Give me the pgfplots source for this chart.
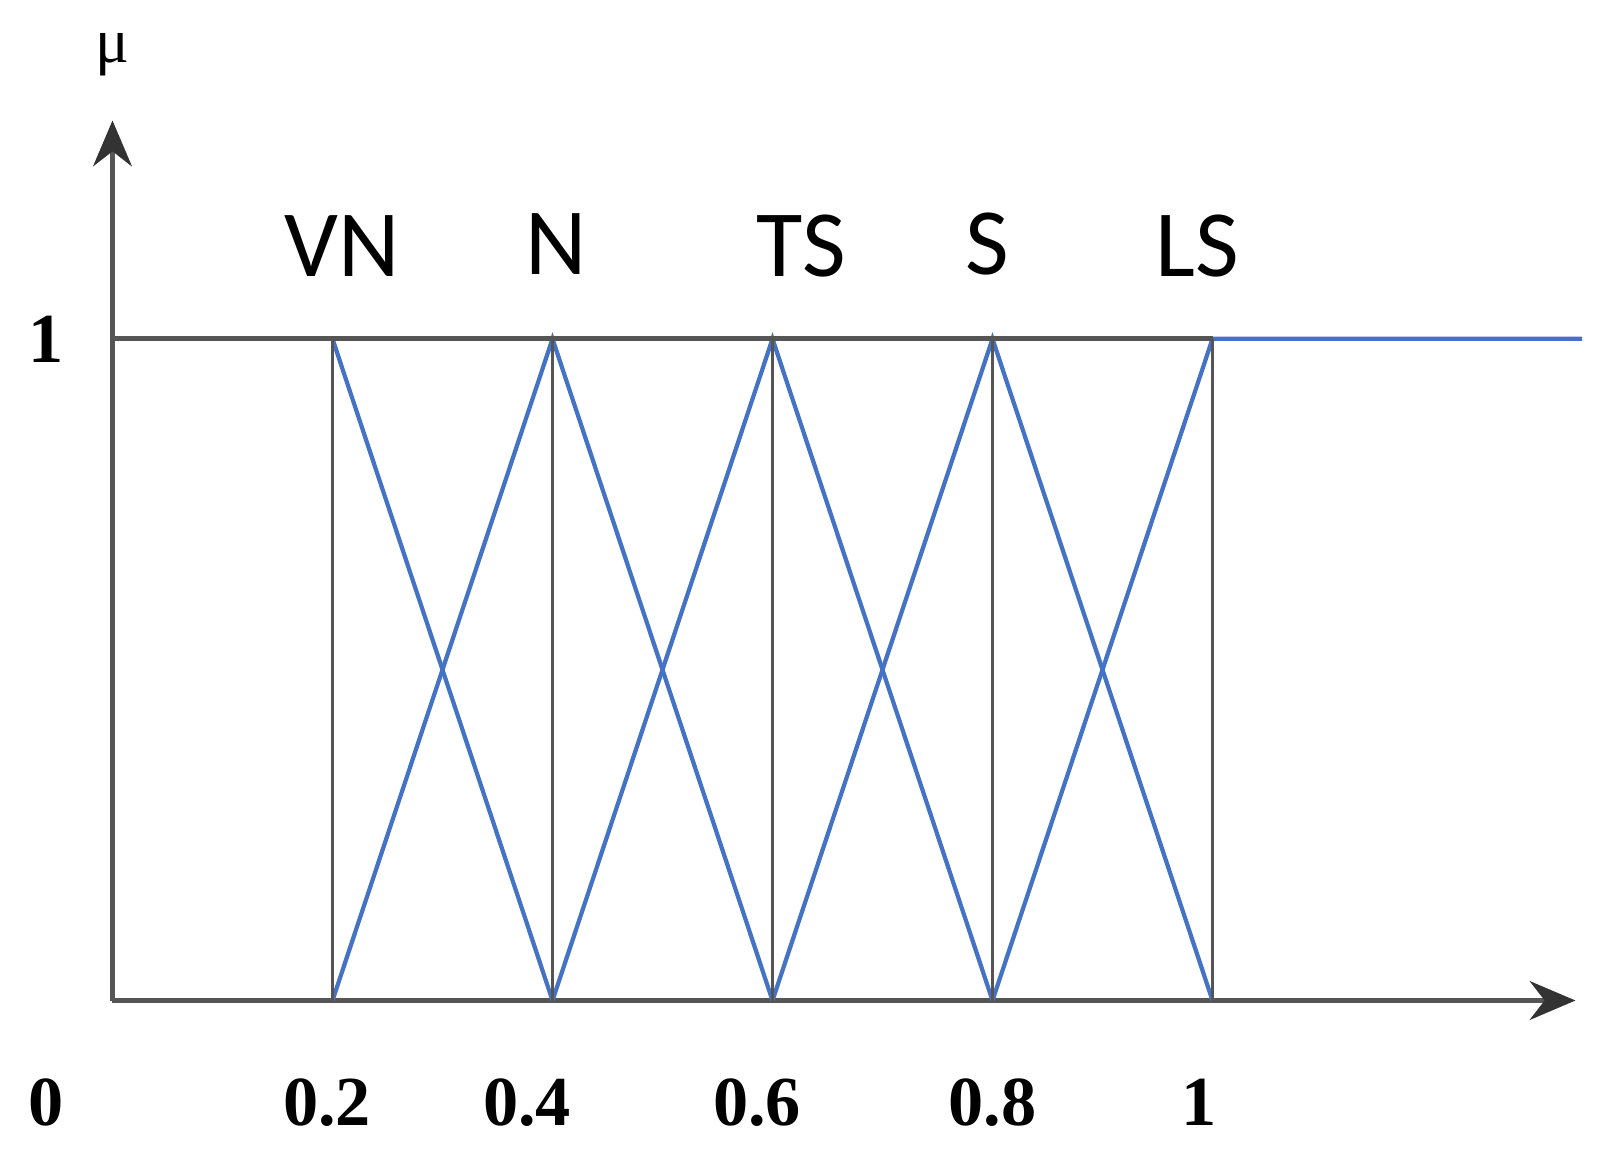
\documentclass[border=0pt]{standalone}
\usepackage{pgfplots}
\pgfplotsset{compat=1.18}
\usepackage{fontspec}
\setmainfont{Liberation Serif}
\newfontfamily\calib{Carlito}
\usetikzlibrary{arrows.meta}
\definecolor{axgray}{HTML}{555555}
\definecolor{mfblue}{HTML}{4472C4}
\begin{document}
\begin{tikzpicture}
\begin{axis}[
  at={(0,0)}, anchor=origin,
  scale only axis,
  width=14.63cm, height=8.80cm,
  xmin=0, xmax=1.33, ymin=0, ymax=1.33,
  axis lines=left,
  axis line style={draw=axgray, line width=1.5pt, -{Stealth[length=13pt,width=11pt,color=black!80]}},
  xtick=\empty, ytick=\empty,
  clip=false,
]
% membership functions (blue)
\addplot[mfblue, line width=1.2pt] coordinates {(0.2,1) (0.4,0)};          % VN
\addplot[mfblue, line width=1.2pt] coordinates {(0.2,0) (0.4,1) (0.6,0)};  % N
\addplot[mfblue, line width=1.2pt] coordinates {(0.4,0) (0.6,1) (0.8,0)};  % TS
\addplot[mfblue, line width=1.2pt] coordinates {(0.6,0) (0.8,1) (1.0,0)};  % S
\addplot[mfblue, line width=1.2pt] coordinates {(0.8,0) (1.0,1) (1.336,1)};% LS
% grey frame lines
\addplot[axgray, line width=1.5pt] coordinates {(0,1) (1.0,1)};
\addplot[axgray, line width=1.0pt] coordinates {(0.2,0) (0.2,1)};
\addplot[axgray, line width=1.0pt] coordinates {(0.4,0) (0.4,1)};
\addplot[axgray, line width=1.0pt] coordinates {(0.6,0) (0.6,1)};
\addplot[axgray, line width=1.0pt] coordinates {(0.8,0) (0.8,1)};
\addplot[axgray, line width=1.0pt] coordinates {(1.0,0) (1.0,1)};
% term labels
\node[anchor=base, font=\calib\fontsize{27}{30}\selectfont] at (axis cs:0.209,1.094) {VN};
\node[anchor=base, font=\calib\fontsize{27}{30}\selectfont] at (axis cs:0.403,1.097) {N};
\node[anchor=base, font=\calib\fontsize{27}{30}\selectfont] at (axis cs:0.626,1.094) {TS};
\node[anchor=base, font=\calib\fontsize{27}{30}\selectfont] at (axis cs:0.795,1.097) {S};
\node[anchor=base, font=\calib\fontsize{27}{30}\selectfont] at (axis cs:0.986,1.094) {LS};
% tick labels
\node[anchor=base, font=\bfseries\fontsize{20}{24}\selectfont] at (axis cs:-0.06,-0.189) {0};
\node[anchor=base, font=\bfseries\fontsize{20}{24}\selectfont] at (axis cs:0.195,-0.189) {0.2};
\node[anchor=base, font=\bfseries\fontsize{20}{24}\selectfont] at (axis cs:0.377,-0.189) {0.4};
\node[anchor=base, font=\bfseries\fontsize{20}{24}\selectfont] at (axis cs:0.586,-0.189) {0.6};
\node[anchor=base, font=\bfseries\fontsize{20}{24}\selectfont] at (axis cs:0.80,-0.189) {0.8};
\node[anchor=base, font=\bfseries\fontsize{20}{24}\selectfont] at (axis cs:0.988,-0.189) {1};
\node[font=\bfseries\fontsize{20}{24}\selectfont] at (axis cs:-0.06,1.0) {1};
\node[font=\fontsize{18}{22}\selectfont] at (axis cs:0.0,1.43) {μ};
\end{axis}
\pgfresetboundingbox
\path[use as bounding box] (-1.125cm,-1.596cm) rectangle (14.915cm,10.005cm);
\end{tikzpicture}
\end{document}
